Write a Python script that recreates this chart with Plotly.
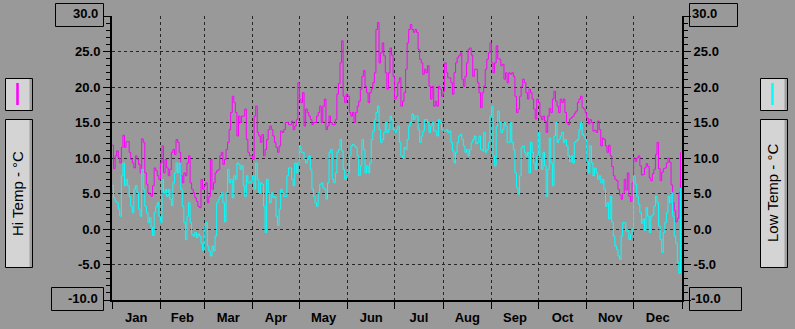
import pandas as pd
import plotly.graph_objects as go

# ---- data (daily, 2001) ----
hi_temp = [
    11.8, 8.5, 10.3, 11.0, 10.0, 9.3, 11.5, 13.2, 11.5, 12.3,
    12.3, 10.8, 9.8, 9.3, 8.6, 10.3, 9.8, 9.1, 7.9, 12.7,
    12.2, 7.9, 6.3, 5.1, 4.9, 4.6, 6.1, 8.6, 8.2, 7.5,
    7.0, 9.3, 11.7, 7.9, 9.8, 8.6, 7.5, 8.4, 10.8, 11.2,
    10.5, 12.6, 12.2, 10.8, 7.5, 6.5, 7.9, 7.5, 9.3, 10.3,
    6.5, 5.6, 5.1, 4.4, 3.9, 3.2, 3.0, 7.0, 5.6, 6.1,
    6.5, 3.7, 4.6, 9.8, 5.6, 6.5, 7.9, 8.2, 8.4, 10.3,
    10.8, 9.1, 9.8, 11.2, 12.2, 14.0, 16.4, 18.7, 17.8, 16.4,
    13.1, 15.9, 15.0, 15.9, 15.9, 16.9, 12.6, 10.8, 10.3, 10.3,
    9.8, 15.9, 17.3, 13.6, 13.1, 12.2, 13.3, 10.3, 11.2, 12.6,
    14.0, 14.5, 14.0, 13.1, 12.2, 11.5, 10.8, 11.7, 13.8, 13.6,
    14.0, 15.0, 15.0, 14.7, 14.7, 15.2, 14.0, 14.5, 15.4, 20.6,
    18.3, 17.8, 19.2, 14.5, 16.9, 16.4, 15.9, 15.4, 14.7, 15.0,
    15.0, 15.9, 16.4, 17.3, 15.0, 17.3, 18.3, 14.0, 14.5, 15.9,
    15.0, 14.7, 14.7, 15.4, 19.0, 20.5, 23.4, 26.5, 18.7, 17.8,
    19.0, 18.7, 16.4, 15.9, 16.4, 15.0, 16.4, 17.3, 18.0, 19.7,
    21.5, 22.3, 20.1, 19.2, 17.8, 19.2, 19.7, 20.6, 22.0, 28.1,
    29.1, 23.4, 24.8, 26.2, 24.4, 22.0, 19.7, 22.0, 25.5, 24.5,
    21.5, 18.3, 18.7, 20.6, 21.3, 17.3, 18.0, 19.2, 22.5, 26.2,
    28.1, 28.8, 28.1, 27.7, 28.1, 27.7, 25.3, 23.9, 23.4, 21.8,
    22.5, 22.0, 23.0, 20.1, 18.3, 20.1, 17.3, 18.0, 17.3, 20.1,
    19.7, 18.7, 19.4, 23.4, 22.0, 21.3, 21.3, 20.6, 19.0, 22.0,
    23.4, 24.1, 24.4, 24.8, 21.1, 20.1, 21.5, 23.4, 25.3, 25.5,
    24.5, 21.5, 22.5, 22.5, 20.6, 19.2, 17.1, 19.2, 20.1, 22.5,
    23.9, 24.8, 26.2, 23.4, 22.0, 23.4, 25.8, 24.0, 23.9, 23.0,
    23.2, 21.1, 22.0, 20.6, 22.0, 21.8, 22.0, 21.5, 18.7, 16.4,
    16.9, 18.7, 20.1, 21.1, 20.6, 19.2, 18.3, 19.7, 19.2, 18.3,
    16.9, 15.5, 18.3, 17.8, 15.9, 15.4, 15.9, 15.2, 13.6, 15.9,
    17.0, 16.4, 18.3, 19.4, 18.0, 17.3, 16.4, 18.3, 17.8, 18.3,
    16.4, 15.0, 14.7, 15.5, 15.7, 15.9, 16.3, 16.6, 17.8, 18.3,
    18.7, 17.1, 16.9, 16.4, 15.6, 14.8, 15.4, 15.0, 13.8, 13.9,
    13.6, 15.2, 14.0, 11.7, 12.8, 12.6, 11.7, 10.8, 11.8, 10.3,
    8.8, 7.5, 7.0, 6.8, 5.6, 4.8, 4.2, 5.0, 7.0, 5.5,
    7.9, 4.6, 3.9, 6.5, 10.0, 9.5, 10.0, 10.3, 8.9, 7.6,
    7.7, 8.6, 9.2, 8.8, 7.2, 6.8, 7.8, 8.4, 10.5, 12.2,
    8.5, 6.8, 8.0, 8.5, 8.6, 9.3, 10.0, 9.4, 6.2, 3.7,
    2.6, 1.0, 1.5, 5.1, 10.8,
]

low_temp = [
    6.1, 4.4, 3.9, 3.7, 2.8, 1.8, 7.5, 9.3, 6.1, 7.0,
    6.1, 4.6, 3.2, 2.3, 5.6, 6.1, 5.1, 2.8, 1.8, 8.4,
    5.6, 3.2, 2.3, 0.9, 1.6, 0.3, -0.9, 2.3, 3.2, 3.7,
    1.8, 0.9, 7.0, 5.1, 5.6, 4.6, 5.6, 4.2, 3.3, 6.5,
    7.9, 9.3, 7.9, 9.3, 5.6, 3.2, 0.9, -1.5, 1.8, 3.7,
    0.9, -0.8, -1.0, -0.5, -1.2, -0.7, -1.0, -2.0, -3.0, 0.3,
    0.9, -2.4, -3.1, -3.8, -2.4, -3.1, -1.0, 3.7, 4.2, 4.6,
    5.1, 3.7, 1.0, 5.1, 8.4, 6.5, 7.0, 4.4, 7.5, 7.0,
    9.3, 9.1, 8.4, 8.9, 6.1, 4.6, 7.5, 6.5, 6.5, 6.8,
    7.5, 5.6, 9.3, 7.0, 5.1, 6.5, 6.3, 3.2, -0.5, 7.0,
    5.1, 3.7, 5.1, 4.4, 4.6, 1.8, 0.5, 2.8, 5.6, 5.1,
    4.6, 4.6, 7.5, 8.6, 8.6, 7.0, 6.1, 9.3, 7.9, 9.3,
    11.7, 10.8, 10.8, 9.8, 9.3, 9.8, 10.3, 8.4, 5.6, 4.6,
    3.7, 3.2, 5.1, 6.3, 6.5, 5.8, 5.6, 4.2, 6.5, 10.8,
    11.2, 7.0, 6.5, 7.9, 10.8, 11.2, 12.6, 11.0, 8.4, 7.0,
    7.5, 7.9, 10.3, 11.7, 11.9, 11.7, 11.5, 10.3, 7.5, 8.9,
    12.6, 11.2, 7.9, 8.9, 7.9, 9.3, 12.6, 13.8, 15.4, 16.4,
    17.3, 14.0, 12.2, 12.6, 13.6, 15.0, 13.6, 14.0, 15.9, 15.4,
    14.0, 13.6, 14.0, 14.5, 12.2, 10.3, 10.0, 11.5, 11.2, 12.6,
    14.5, 15.0, 16.2, 15.4, 15.9, 15.9, 14.0, 12.2, 13.1, 13.8,
    15.4, 15.4, 15.0, 13.6, 14.5, 15.0, 13.8, 13.8, 13.1, 15.4,
    15.0, 14.0, 13.8, 13.8, 14.0, 13.6, 13.8, 12.2, 11.0, 9.3,
    10.8, 12.2, 13.1, 13.3, 12.6, 11.7, 10.8, 11.2, 10.3, 11.2,
    12.2, 12.6, 13.1, 12.0, 12.2, 13.1, 11.2, 11.0, 13.6, 10.8,
    11.2, 12.2, 15.9, 17.3, 10.3, 8.9, 14.5, 16.6, 15.0, 13.6,
    14.0, 15.0, 14.5, 12.2, 12.2, 15.0, 12.2, 11.2, 7.9, 5.8,
    4.9, 7.5, 11.5, 11.7, 10.8, 10.3, 10.8, 7.9, 12.2, 10.8,
    9.3, 8.4, 10.3, 13.6, 9.8, 8.4, 10.8, 8.9, 4.6, 8.4,
    12.8, 9.3, 6.1, 13.1, 15.0, 12.2, 12.6, 13.1, 13.6, 12.2,
    12.6, 11.7, 10.3, 9.5, 10.3, 9.3, 12.2, 12.4, 12.6, 14.0,
    15.0, 13.3, 13.1, 12.6, 9.5, 7.9, 11.7, 9.3, 7.5, 8.6,
    7.9, 7.0, 7.5, 6.5, 7.0, 5.6, 3.2, 3.7, 1.4, 4.6,
    1.0, -1.0, -2.4, -2.9, -3.8, -4.3, -1.0, 0.9, 0.9, -0.3,
    -0.2, -1.5, -0.8, 0.0, 7.5, 6.3, 4.6, 3.5, 2.3, 0.8,
    1.4, -0.2, 3.0, 1.8, -0.5, 1.8, 2.0, 3.2, 4.6, 3.7,
    0.4, -1.5, -3.3, -0.5, 0.9, 2.3, 4.6, 3.7, 5.1, 1.8,
    -1.0, -2.0, -4.7, -6.2, 5.8,
]

y_major = [-10, -5, 0, 5, 10, 15, 20, 25, 30]
y_labels = ["", "-5.0", "0.0", "5.0", "10.0", "15.0", "20.0", "25.0", ""]
hi_title = "Hi Temp - °C"
low_title = "Low Temp - °C"

dates = pd.date_range("2001-01-01", periods=len(hi_temp), freq="D")

W, H = 795, 329
L, R, T, B = 112, 682, 16, 300
BG = "#999999"
GRID = "#262626"
FONT = "Liberation Sans, Arial, sans-serif"


def px(x):
    return (x - L) / (R - L)


def py(y):
    return (B - y) / (B - T)


fig = go.Figure()
fig.add_trace(go.Scatter(x=dates, y=hi_temp, mode="lines", line=dict(color="#ff00ff", width=1, shape="hv"),
                         name=hi_title, showlegend=False, yaxis="y"))
fig.add_trace(go.Scatter(x=dates, y=low_temp, mode="lines", line=dict(color="#00ffff", width=1, shape="hv"),
                         name=low_title, showlegend=False, yaxis="y2"))

yax_common = dict(
    range=[-10, 30], tickmode="array", tickvals=y_major, ticktext=y_labels,
    ticks="outside", ticklen=7, tickwidth=1, tickcolor="black",
    minor=dict(dtick=1, tick0=0, ticks="outside", ticklen=4, tickcolor="black", showgrid=False),
    showline=True, linecolor="black", linewidth=2,
    tickfont=dict(family=FONT, size=13, color="black", weight="bold"),
    zeroline=False, automargin=False,
)

fig.update_layout(
    template="none",
    width=W, height=H,
    margin=dict(l=L, r=W - R, t=T, b=H - B, pad=0, autoexpand=False),
    paper_bgcolor=BG, plot_bgcolor=BG,
    showlegend=False,
    xaxis=dict(
        type="date", range=["2001-01-01", "2002-01-01"],
        tick0="2001-01-01", dtick="M1", tickformat="%b", ticklabelmode="period",
        ticks="outside", ticklen=7, tickcolor="black", tickwidth=1,
        ticklabelstandoff=-3,
        showgrid=True, gridcolor=GRID, griddash="3px,3px", gridwidth=1,
        showline=True, linecolor="black", linewidth=2,
        tickfont=dict(family=FONT, size=13, color="black", weight="bold"),
        zeroline=False, automargin=False,
    ),
    yaxis=dict(**yax_common, side="left", showgrid=True, gridcolor=GRID, griddash="3px,3px", gridwidth=1),
    yaxis2=dict(**yax_common, side="right", overlaying="y", showgrid=False),
)

shapes = []
annotations = []


def box(x0, y0, x1, y1, fill="rgba(0,0,0,0)"):
    shapes.append(dict(type="rect", xref="paper", yref="paper", x0=px(x0), x1=px(x1), y0=py(y1), y1=py(y0),
                       line=dict(color="black", width=1), fillcolor=fill, layer="above"))


def text(x, y, s, anchor, size=13, bold=True, angle=0):
    annotations.append(dict(xref="paper", yref="paper", x=px(x), y=py(y), text=s, showarrow=False,
                            xanchor=anchor, yanchor="middle", textangle=angle,
                            font=dict(family=FONT, size=size, color="black", weight="bold" if bold else "normal")))


# boxed end labels
box(55.5, 3.5, 103.5, 26.5)
text(100, 13.5, "30.0", "right")
box(51.5, 287.5, 103.5, 310.5)
text(100, 298, "-10.0", "right")
box(689.5, 3.5, 737.5, 26.5)
text(690, 13.5, "30.0", "left")
box(689.5, 287.5, 741.5, 310.5)
text(689, 298, "-10.0", "left")

# legend boxes
for (x0, x1, color, title) in [(5.5, 32.5, "#ff00ff", hi_title), (760.5, 787.5, "#00ffff", low_title)]:
    for (y0, y1) in [(78.5, 110.5), (119.5, 267.5)]:
        box(x0, y0, x1, y1, fill="#d4d4d4")
        shapes.append(dict(type="rect", xref="paper", yref="paper", x0=px(x1 - 3), x1=px(x1 - 0.5),
                           y0=py(y1 - 0.5), y1=py(y0 + 0.5), line=dict(width=0), fillcolor="#a0a0a0", layer="above"))
    cx = (x0 + x1) / 2 - 1.5
    shapes.append(dict(type="line", xref="paper", yref="paper", x0=px(cx), x1=px(cx), y0=py(83), y1=py(105),
                       line=dict(color=color, width=2.5), layer="above"))
    text(cx + 0.5, 193, title, "center", size=15, bold=False, angle=-90)

fig.update_layout(shapes=shapes, annotations=annotations)

fig.write_html(
    "out.html",
    config={"displayModeBar": False},
    post_script="document.body.style.margin='0';document.body.style.overflow='hidden';",
)
